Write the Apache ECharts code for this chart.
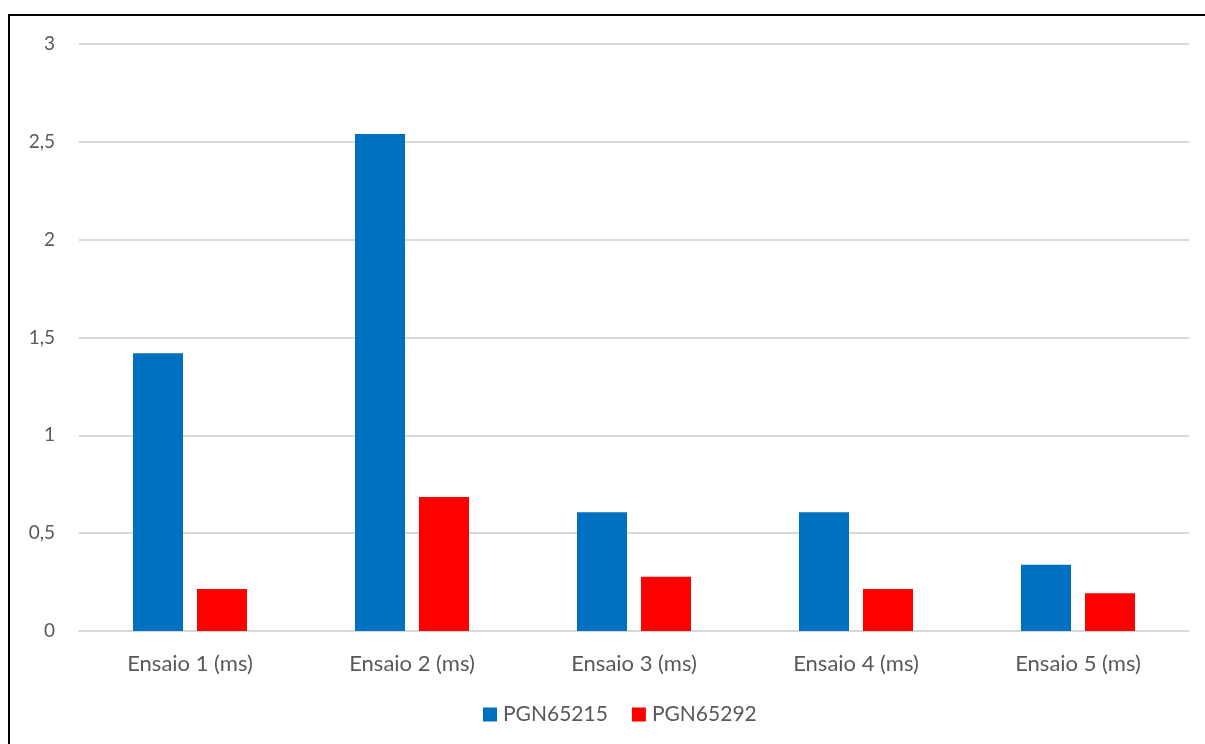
<!DOCTYPE html>
<html>
<head>
<meta charset="utf-8">
<script src="https://cdn.jsdelivr.net/npm/echarts@6/dist/echarts.min.js"></script>
<style>
  html, body { margin: 0; padding: 0; background: #fff; }
  #chart { width: 1205px; height: 744px; }
</style>
</head>
<body>
<div id="chart"></div>
<script>
// Test runs and timings (ms) for the two PGNs
const categories = ['Ensaio 1 (ms)', 'Ensaio 2 (ms)', 'Ensaio 3 (ms)', 'Ensaio 4 (ms)', 'Ensaio 5 (ms)'];
const seriesNames = ['PGN65215', 'PGN65292'];
const pgn65215 = [1.42, 2.54, 0.607, 0.607, 0.339];
const pgn65292 = [0.215, 0.685, 0.277, 0.215, 0.193];
const yTicks = [0, 0.5, 1, 1.5, 2, 2.5, 3];

const fontFamily = 'Lato, Open Sans, sans-serif';
const textColor = '#595959';

const chart = echarts.init(document.getElementById('chart'));
chart.setOption({
  animation: false,
  backgroundColor: '#ffffff',
  graphic: [{
    type: 'rect',
    shape: { x: 9, y: 15, width: 1300, height: 800 },
    style: { fill: 'none', stroke: '#000000', lineWidth: 2 },
    silent: true
  }],
  grid: { left: 79, right: 16, top: 44, bottom: 113 },
  legend: {
    data: seriesNames,
    bottom: 14,
    left: 478,
    itemWidth: 14,
    itemHeight: 14,
    itemGap: 24,
    icon: 'rect',
    textStyle: { color: textColor, fontSize: 21, fontFamily: fontFamily, padding: [0, 0, 0, 1] }
  },
  xAxis: {
    type: 'category',
    data: categories,
    axisLine: { show: true, lineStyle: { color: '#d9d9d9', width: 2 } },
    axisTick: { show: false },
    axisLabel: { color: textColor, fontSize: 22, fontFamily: fontFamily, margin: 22 }
  },
  yAxis: {
    type: 'value',
    min: yTicks[0],
    max: yTicks[yTicks.length - 1],
    interval: 0.5,
    axisLine: { show: false },
    axisTick: { show: false },
    splitLine: { lineStyle: { color: '#d9d9d9', width: 2 } },
    axisLabel: {
      color: textColor, fontSize: 19, fontFamily: fontFamily, margin: 24,
      formatter: v => String(v).replace('.', ',')
    }
  },
  series: [
    {
      name: seriesNames[0], type: 'bar', data: pgn65215,
      barWidth: 50, barGap: '28%',
      itemStyle: { color: '#0070c0' }
    },
    {
      name: seriesNames[1], type: 'bar', data: pgn65292,
      barWidth: 50, barGap: '28%',
      itemStyle: { color: '#ff0000' }
    }
  ]
});
</script>
</body>
</html>
